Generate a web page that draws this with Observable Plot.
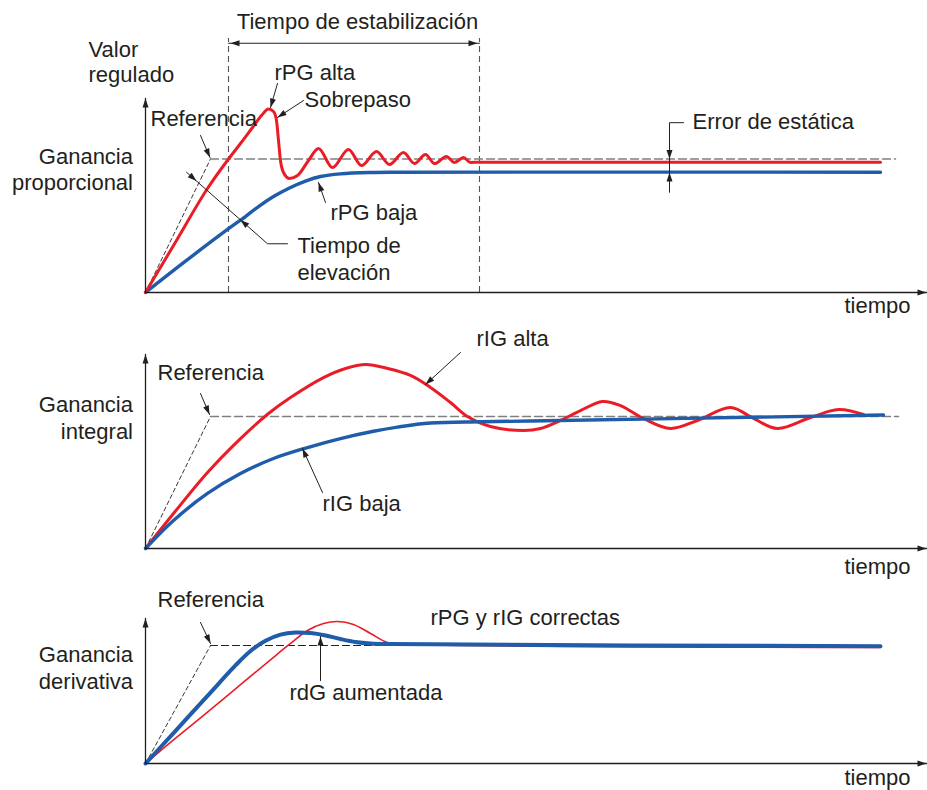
<!DOCTYPE html>
<html>
<head>
<meta charset="utf-8">
<script src="https://cdn.jsdelivr.net/npm/d3@7"></script>
<script src="https://cdn.jsdelivr.net/npm/@observablehq/plot@0.6"></script>
<style>
  html, body { margin: 0; padding: 0; background: #ffffff; }
  #chart { width: 927px; }
  #chart svg { display: block; overflow: visible; }
</style>
</head>
<body>
<div id="chart"></div>
<script>
// ---------- DATA (time t in arbitrary units, value v: 1 = reference) ----------

// Panel 1 — Ganancia proporcional
const p1RefRamp = [[0, 0], [13, 1]];
const p1RefLevel = [[13, 1], [150, 1]];
const p1RpgAlta = [[0,0],[6.2,0.39],[12.4,0.779],[16.6,1.0],[19,1.116],[21.4,1.236],[23.2,1.326],[24.6,1.375],[25.6,1.356],[26.2,1.288],[26.6,1.139],[27,0.989],[27.6,0.899],[28.8,0.854],[30.4,0.876],[32.6,0.989],[34.6,1.079],[37.4,0.936],[40.6,1.071],[43.2,0.951],[46.2,1.056],[48.8,0.959],[51.6,1.049],[53.8,0.966],[56,1.034],[57.8,0.966],[60.2,1.019],[61.8,0.974],[63.6,1.011],[65,0.974],[66.8,0.976],[147,0.976]];
const p1RpgBaja = [[0,0],[8.2,0.24],[16.4,0.472],[20,0.569],[22.6,0.644],[25.6,0.719],[29,0.787],[32,0.835],[35,0.869],[39,0.889],[45,0.899],[51,0.901],[147,0.901]];
const p1SettleTimes = [16.6, 66.8];
const p1SettleTop = 1.903;
const p1Axis = [[0, 1.453], [0, 0], [156.2, 0]];
const p1Leaders = [
  [[11, 1.176], [12.9, 1.011]],
  [[26.4, 1.566], [25, 1.386]],
  [[31.6, 1.438], [26.4, 1.311]],
  [[36, 0.674], [34.6, 0.824]],
  [[28.4, 0.365], [24.4, 0.365], [8.2, 0.901]],
  [[107.6, 1.272], [104.8, 1.272], [104.8, 0.751]],
  [[16.6, 1.867], [66.8, 1.867]]
];
// [tipT, tipV, fromT, fromV]
const p1Heads = [
  [0, 1.453, 0, 0], [156.2, 0, 0, 0],
  [12.9, 1.011, 11, 1.176],
  [25, 1.386, 26.4, 1.566],
  [26.4, 1.311, 31.6, 1.438],
  [34.6, 0.824, 36, 0.674],
  [10.2, 0.835, 8.2, 0.901],
  [19, 0.544, 24.4, 0.365],
  [104.8, 1.0, 104.8, 1.272],
  [104.8, 0.899, 104.8, 0.751],
  [17, 1.867, 30, 1.867],
  [66.4, 1.867, 50, 1.867]
];
const p1LabelsStart = [
  {text: "Valor", t: -11.4, v: 1.82},
  {text: "regulado", t: -11.4, v: 1.63},
  {text: "Referencia", t: 1, v: 1.30},
  {text: "rPG alta", t: 25.8, v: 1.645},
  {text: "Sobrepaso", t: 31.8, v: 1.442},
  {text: "rPG baja", t: 37, v: 0.596},
  {text: "Tiempo de", t: 30.4, v: 0.345},
  {text: "elevación", t: 30.4, v: 0.147},
  {text: "Error de estática", t: 109.4, v: 1.278}
];
const p1LabelsEnd = [
  {text: "Ganancia", t: -2.5, v: 1.019},
  {text: "proporcional", t: -2.5, v: 0.821},
  {text: "tiempo", t: 153, v: -0.1}
];
const p1LabelsMiddle = [
  {text: "Tiempo de estabilización", t: 42.4, v: 2.03}
];

// Panel 2 — Ganancia integral
const p2RefRamp = [[0, 0], [13, 1]];
const p2RefLevel = [[13, 1], [150.6, 1]];
const p2RigAlta = [[0,0],[5.6,0.265],[12.4,0.576],[19,0.833],[24.6,1.023],[29,1.144],[35.6,1.295],[40,1.364],[44,1.394],[48.4,1.364],[53,1.311],[57,1.22],[61,1.106],[64.4,1.0],[69,0.924],[75.6,0.894],[79,0.909],[83,0.97],[87,1.045],[91.4,1.114],[95,1.083],[99.6,0.985],[105,0.909],[110.4,0.97],[117,1.068],[121.6,0.985],[126.4,0.909],[133,0.992],[138.6,1.053],[143.6,1.015]];
const p2RigBaja = [[0,0],[5.6,0.212],[12.4,0.417],[19,0.568],[25.6,0.682],[32.4,0.765],[39,0.833],[45.6,0.888],[50.4,0.92],[57,0.951],[67,0.96],[77,0.966],[147.6,1.011]];
const p2Axis = [[0, 1.47], [0, 0], [156.2, 0]];
const p2Leaders = [
  [[11, 1.174], [12.8, 1.015]],
  [[63, 1.485], [56, 1.242]],
  [[35.4, 0.424], [31.4, 0.758]]
];
const p2Heads = [
  [0, 1.47, 0, 0], [156.2, 0, 0, 0],
  [12.8, 1.015, 11, 1.174],
  [56, 1.242, 63, 1.485],
  [31.4, 0.758, 35.4, 0.424]
];
const p2LabelsStart = [
  {text: "Referencia", t: 2.4, v: 1.33},
  {text: "rIG alta", t: 66.2, v: 1.585},
  {text: "rIG baja", t: 35.4, v: 0.335}
];
const p2LabelsEnd = [
  {text: "Ganancia", t: -2.5, v: 1.085},
  {text: "integral", t: -2.5, v: 0.88},
  {text: "tiempo", t: 153, v: -0.143}
];

// Panel 3 — Ganancia derivativa
const p3RefRamp = [[0, 0], [13, 1]];
const p3RefLevel = [[13, 1], [147, 1]];
const p3Correctas = [[0,0],[5.6,0.2],[12.4,0.436],[19,0.668],[25.6,0.9],[29,1.017],[32.4,1.127],[35.6,1.186],[38.4,1.203],[41.6,1.178],[45,1.102],[48.4,1.025],[51,1.013],[147,0.983]];
const p3RdgAumentada = [[0,0],[5.6,0.258],[12.4,0.573],[18,0.831],[21,0.953],[24,1.04],[27,1.092],[30,1.11],[33,1.105],[36,1.085],[39,1.055],[42,1.03],[45,1.017],[49,1.012],[147,0.994]];
const p3Axis = [[0, 1.229], [0, 0], [156.2, 0]];
const p3Leaders = [
  [[11, 1.195], [13, 1.017]],
  [[35, 0.703], [35, 1.076]]
];
const p3Heads = [
  [0, 1.229, 0, 0], [156.2, 0, 0, 0],
  [13, 1.017, 11, 1.195],
  [35, 1.076, 35, 0.703]
];
const p3LabelsStart = [
  {text: "Referencia", t: 2.4, v: 1.39},
  {text: "rPG y rIG correctas", t: 57, v: 1.23},
  {text: "rdG aumentada", t: 28.8, v: 0.60}
];
const p3LabelsEnd = [
  {text: "Ganancia", t: -2.5, v: 0.916},
  {text: "derivativa", t: -2.5, v: 0.687},
  {text: "tiempo", t: 153, v: -0.122}
];

// ---------- STYLE / LAYOUT ----------
const INK = "#231f20";
const RED = "#ea1d27";
const BLUE = "#1f5ca9";
const FONT = "'Liberation Sans', Arial, Helvetica, sans-serif";
const FS = 22;
const X_DOMAIN = [0, 147];
const X_RANGE = [145, 880];

const HEAD = {
  draw(ctx) {
    ctx.moveTo(0, 0);
    ctx.lineTo(-9, -3);
    ctx.lineTo(-9, 3);
    ctx.closePath();
  }
};

function labelMarks(arr, anchor) {
  if (!arr || !arr.length) return [];
  return [Plot.text(arr, {
    x: "t", y: "v", text: "text", textAnchor: anchor, lineAnchor: "middle",
    fontSize: FS, fontFamily: FONT, fill: INK
  })];
}

function panel(cfg) {
  const ky = cfg.yRange[0] - cfg.yRange[1];
  const kx = (X_RANGE[1] - X_RANGE[0]) / (X_DOMAIN[1] - X_DOMAIN[0]);
  const angle = d => Math.atan2(-(d[1] - d[3]) * ky, (d[0] - d[2]) * kx) * 180 / Math.PI;
  const marks = [
    ...cfg.marks,
    Plot.line(cfg.axis, {stroke: INK, strokeWidth: 1.3}),
    ...cfg.leaders.map(l => Plot.line(l, {stroke: INK, strokeWidth: 1})),
    Plot.dot(cfg.heads, {
      x: d => d[0], y: d => d[1], rotate: angle, symbol: HEAD,
      fill: INK, stroke: "none"
    }),
    ...labelMarks(cfg.labelsStart, "start"),
    ...labelMarks(cfg.labelsEnd, "end"),
    ...labelMarks(cfg.labelsMiddle, "middle")
  ];
  return Plot.plot({
    width: 927,
    height: cfg.height,
    margin: 0,
    x: {domain: X_DOMAIN, range: X_RANGE, axis: null},
    y: {domain: [0, 1], range: cfg.yRange, axis: null},
    style: {fontFamily: FONT, background: "#ffffff", overflow: "visible"},
    marks
  });
}

const monoOpts = {curve: "monotone-x", strokeLinejoin: "round", strokeLinecap: "round"};
const smoothOpts = {curve: "catmull-rom", strokeLinejoin: "round", strokeLinecap: "round"};

const chart = document.getElementById("chart");

chart.append(panel({
  height: 320,
  yRange: [292, 158.5],
  axis: p1Axis, leaders: p1Leaders, heads: p1Heads,
  labelsStart: p1LabelsStart, labelsEnd: p1LabelsEnd, labelsMiddle: p1LabelsMiddle,
  marks: [
    Plot.ruleX(p1SettleTimes, {x: d => d, y1: 0, y2: p1SettleTop, stroke: "#555", strokeWidth: 1.1, strokeDasharray: "6,4"}),
    Plot.line(p1RefRamp, {stroke: INK, strokeWidth: 0.9, strokeDasharray: "4,3"}),
    Plot.line(p1RefLevel, {stroke: "#808080", strokeWidth: 1.5, strokeDasharray: "8,4"}),
    Plot.line(p1RpgBaja, {...smoothOpts, stroke: BLUE, strokeWidth: 3.4}),
    Plot.line(p1RpgAlta, {...monoOpts, stroke: RED, strokeWidth: 3})
  ]
}));

chart.append(panel({
  height: 258,
  yRange: [228, 96],
  axis: p2Axis, leaders: p2Leaders, heads: p2Heads,
  labelsStart: p2LabelsStart, labelsEnd: p2LabelsEnd,
  marks: [
    Plot.line(p2RefRamp, {stroke: INK, strokeWidth: 0.9, strokeDasharray: "4,3"}),
    Plot.line(p2RefLevel, {stroke: "#808080", strokeWidth: 1.5, strokeDasharray: "8,4"}),
    Plot.line(p2RigAlta, {...smoothOpts, stroke: RED, strokeWidth: 3}),
    Plot.line(p2RigBaja, {...smoothOpts, stroke: BLUE, strokeWidth: 3.4})
  ]
}));

chart.append(panel({
  height: 212,
  yRange: [185, 67],
  axis: p3Axis, leaders: p3Leaders, heads: p3Heads,
  labelsStart: p3LabelsStart, labelsEnd: p3LabelsEnd,
  marks: [
    Plot.line(p3RefRamp, {stroke: INK, strokeWidth: 0.9, strokeDasharray: "4,3"}),
    Plot.line(p3RefLevel, {stroke: INK, strokeWidth: 1.2, strokeDasharray: "7,4"}),
    Plot.line(p3Correctas, {...smoothOpts, stroke: RED, strokeWidth: 1.6}),
    Plot.line(p3RdgAumentada, {...smoothOpts, stroke: BLUE, strokeWidth: 4})
  ]
}));
</script>
</body>
</html>
